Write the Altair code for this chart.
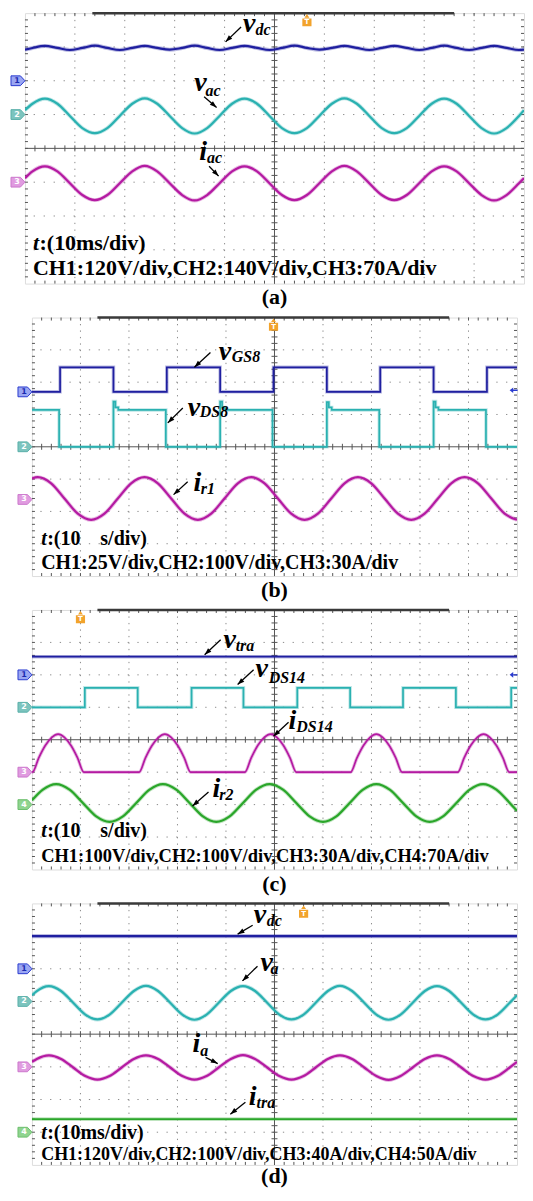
import math
import numpy as np
import pandas as pd
import altair as alt

FONT = "Liberation Serif"
BLUE = "#1f1fa0"
TEAL = "#2ab1b1"
MAG = "#b41aa2"
GREEN = "#2aa62a"
ORANGE = "#f2a32c"
GRID = "#8c8c8c"
AXC = "#555555"

# ---------------- panel (a) ----------------
a_t = [0, 0.15, 0.4, 0.65, 0.9, 1.15, 1.4, 1.65, 1.9, 2.15, 2.4, 2.65, 2.9, 3.15, 3.4, 3.65,
       3.9, 4.15, 4.4, 4.65, 4.9, 5.15, 5.4, 5.65, 5.9, 6.15, 6.4, 6.65, 6.9, 7.15, 7.4, 7.65,
       7.9, 8.15, 8.4, 8.65, 8.9, 9.15, 9.4, 9.65, 9.9, 10]
a_vdc = [2.92,
         2.97, 3.03, 2.97, 2.91, 2.97, 3.04, 2.97, 2.91, 2.97, 3.03, 2.97, 2.92,
         2.97, 3.04, 2.97, 2.91, 2.97, 3.03, 2.97, 2.91, 2.97, 3.04, 2.97, 2.92,
         2.97, 3.03, 2.97, 2.91, 2.97, 3.03, 2.97, 2.91, 2.97, 3.04, 2.97, 2.91,
         2.97, 3.03, 2.97, 2.91,
         2.92]
a_vac = [1.13,
         1.32, 1.47, 1.32, 0.96, 0.60, 0.45, 0.60, 0.96,
         1.32, 1.48, 1.32, 0.96, 0.60, 0.44, 0.60, 0.96,
         1.32, 1.47, 1.32, 0.96, 0.60, 0.45, 0.60, 0.96,
         1.32, 1.48, 1.32, 0.96, 0.60, 0.45, 0.60, 0.96,
         1.32, 1.47, 1.32, 0.96, 0.60, 0.44, 0.60, 0.96,
         1.13]
a_iac = [-0.88,
         -0.68, -0.53, -0.68, -1.03, -1.38, -1.53, -1.38, -1.03,
         -0.68, -0.52, -0.68, -1.03, -1.38, -1.54, -1.38, -1.03,
         -0.68, -0.53, -0.68, -1.03, -1.38, -1.53, -1.38, -1.03,
         -0.68, -0.52, -0.68, -1.03, -1.38, -1.53, -1.38, -1.03,
         -0.68, -0.53, -0.68, -1.03, -1.38, -1.54, -1.38, -1.03,
         -0.88]

# ---------------- panel (b) ----------------
b_gs_t = [0, 0.58, 1.68, 2.78, 3.88, 4.98, 6.08, 7.18, 8.28, 9.38, 10]
b_gs_v = [1.70, 2.46, 1.70, 2.46, 1.70, 2.46, 1.70, 2.46, 1.70, 2.46, 2.46]
b_ds_t = [0, 0.56, 1.68, 1.72, 1.78, 2.76, 3.88, 3.92, 3.98, 4.96, 6.08, 6.12, 6.18, 7.16,
          8.28, 8.32, 8.38, 9.36, 10]
b_ds_v = [1.14, 0.0, 1.40, 1.22, 1.14, 0.0, 1.40, 1.22, 1.14, 0.0, 1.38, 1.22, 1.14, 0.0,
          1.40, 1.22, 1.14, 0.0, 0.0]
b_ir_t = [0, 0.12, 0.395, 0.67, 0.945, 1.22, 1.495, 1.77, 2.045, 2.32, 2.595, 2.87, 3.145,
          3.42, 3.695, 3.97, 4.245, 4.52, 4.795, 5.07, 5.345, 5.62, 5.895, 6.17, 6.445, 6.72,
          6.995, 7.27, 7.545, 7.82, 8.095, 8.37, 8.645, 8.92, 9.195, 9.47, 9.745, 10]
b_ir_v = [-0.98,
          -0.94, -1.13, -1.60, -2.07, -2.26, -2.07, -1.60, -1.13,
          -0.94, -1.13, -1.60, -2.07, -2.26, -2.07, -1.60, -1.13,
          -0.94, -1.13, -1.60, -2.07, -2.26, -2.07, -1.60, -1.13,
          -0.94, -1.13, -1.60, -2.07, -2.26, -2.07, -1.60, -1.13,
          -0.94, -1.13, -1.60, -2.07,
          -2.26]

# ---------------- panel (c) ----------------
c_tra_t = [0, 10]
c_tra_v = [2.56, 2.56]
c_ds_t = [0, 1.09, 2.18, 3.29, 4.36, 5.47, 6.56, 7.65, 8.74, 9.88, 10]
c_ds_v = [1.0, 1.6, 1.0, 1.6, 1.0, 1.6, 1.0, 1.6, 1.0, 1.6, 1.6]
c_id_t = [0,
          0.01, 0.14, 0.275, 0.41, 0.54, 0.67, 0.805, 0.94, 1.07,
          2.21, 2.34, 2.475, 2.61, 2.74, 2.87, 3.005, 3.14, 3.27,
          4.39, 4.52, 4.655, 4.79, 4.92, 5.05, 5.185, 5.32, 5.45,
          6.57, 6.70, 6.835, 6.97, 7.10, 7.23, 7.365, 7.50, 7.63,
          8.78, 8.91, 9.045, 9.18, 9.31, 9.44, 9.575, 9.71, 9.84,
          10]
c_id_v = [-1.0,
          -1.0, -0.56, -0.18, 0.07, 0.17, 0.07, -0.18, -0.56, -1.0,
          -1.0, -0.56, -0.18, 0.07, 0.17, 0.07, -0.18, -0.56, -1.0,
          -1.0, -0.56, -0.18, 0.07, 0.17, 0.07, -0.18, -0.56, -1.0,
          -1.0, -0.56, -0.18, 0.07, 0.17, 0.07, -0.18, -0.56, -1.0,
          -1.0, -0.56, -0.18, 0.07, 0.17, 0.07, -0.18, -0.56, -1.0,
          -1.0]
c_ir_t = [0, 0.225, 0.5, 0.775, 1.05, 1.325, 1.6, 1.875, 2.15, 2.425, 2.7, 2.975, 3.25,
          3.525, 3.8, 4.075, 4.35, 4.625, 4.9, 5.175, 5.45, 5.725, 6.0, 6.275, 6.55, 6.825,
          7.1, 7.375, 7.65, 7.925, 8.2, 8.475, 8.75, 9.025, 9.3, 9.575, 9.85, 10]
c_ir_v = [-1.87,
          -1.54, -1.37, -1.54, -1.95, -2.36, -2.53, -2.36, -1.95,
          -1.54, -1.37, -1.54, -1.95, -2.36, -2.53, -2.36, -1.95,
          -1.54, -1.37, -1.54, -1.95, -2.36, -2.53, -2.36, -1.95,
          -1.54, -1.37, -1.54, -1.95, -2.36, -2.53, -2.36, -1.95,
          -1.54, -1.37, -1.54, -1.95,
          -2.19]

# ---------------- panel (d) ----------------
d_t = [0, 0.1, 0.35, 0.6, 0.85, 1.1, 1.35, 1.6, 1.85, 2.1, 2.35, 2.6, 2.85, 3.1, 3.35, 3.6,
       3.85, 4.1, 4.35, 4.6, 4.85, 5.1, 5.35, 5.6, 5.85, 6.1, 6.35, 6.6, 6.85, 7.1, 7.35, 7.6,
       7.85, 8.1, 8.35, 8.6, 8.85, 9.1, 9.35, 9.6, 9.85, 10]
d_va = [1.19,
        1.32, 1.47, 1.32, 0.96, 0.60, 0.45, 0.60, 0.96,
        1.32, 1.48, 1.32, 0.96, 0.60, 0.44, 0.60, 0.96,
        1.32, 1.47, 1.32, 0.96, 0.60, 0.45, 0.60, 0.96,
        1.32, 1.48, 1.32, 0.96, 0.60, 0.44, 0.60, 0.96,
        1.32, 1.47, 1.32, 0.96, 0.60, 0.45, 0.60, 0.96,
        1.19]
d_ia = [-0.85,
        -0.76, -0.65, -0.76, -1.02, -1.28, -1.39, -1.28, -1.02,
        -0.76, -0.65, -0.76, -1.02, -1.28, -1.39, -1.28, -1.02,
        -0.76, -0.64, -0.76, -1.02, -1.28, -1.39, -1.28, -1.02,
        -0.76, -0.65, -0.76, -1.02, -1.28, -1.40, -1.28, -1.02,
        -0.76, -0.65, -0.76, -1.02, -1.28, -1.39, -1.28, -1.02,
        -0.85]
d_flat_t = [0, 10]
d_vdc = [3.0, 3.0]
d_itra = [-2.6, -2.6]

# ---------------- texts ----------------
a_info = ":(10ms/div)"
b_info = ":(10\u00a0\u00a0\u00a0\u00a0s/div)"
c_info = ":(10\u00a0\u00a0\u00a0\u00a0s/div)"
d_info = ":(10ms/div)"
a_ch = "CH1:120V/div,CH2:140V/div,CH3:70A/div"
b_ch = "CH1:25V/div,CH2:100V/div,CH3:30A/div"
c_ch = "CH1:100V/div,CH2:100V/div,CH3:30A/div,CH4:70A/div"
d_ch = "CH1:120V/div,CH2:100V/div,CH3:40A/div,CH4:50A/div"

XS = alt.Scale(domain=[0, 10], nice=False, zero=False)
YS = alt.Scale(domain=[-4, 4], nice=False, zero=False)


def X(f):
    return alt.X(f, type="quantitative", scale=XS, axis=None)


def Y(f):
    return alt.Y(f, type="quantitative", scale=YS, axis=None)


HEAD = "M0,0L-0.8,2.3L0.8,2.3Z"
TAG = "M-1,-0.7L0.35,-0.7L1,0L0.35,0.7L-1,0.7Z"
TRIG = "M-0.75,-0.3L0.75,-0.3L0.75,1L-0.75,1Z M-0.4,-0.42L0,-1L0.4,-0.42Z"
LARROW = "M-1,0L-0.1,-0.7L-0.1,0.7Z M-0.1,-0.18L1,-0.18L1,0.18L-0.1,0.18Z"

CH_STYLE = {
    1: ("#9aa6f2", "#2a3bd0", "#1a2ab0"),
    2: ("#7cc4be", "#5ab0aa", "white"),
    3: ("#e09be0", "#cc77cc", "white"),
    4: ("#8fd48f", "#6cbf6c", "white"),
}


def frame_layers(ppx, ppy):
    L = []
    vdf = pd.DataFrame({"x": [1, 2, 3, 4, 6, 7, 8, 9]})
    hdf = pd.DataFrame({"y": [-3, -2, -1, 1, 2, 3]})
    L.append(alt.Chart(vdf).mark_rule(color=GRID, strokeWidth=1,
                                      strokeDash=[1.3, ppy * 0.2 - 1.3]).encode(x=X("x")))
    L.append(alt.Chart(hdf).mark_rule(color=GRID, strokeWidth=1,
                                      strokeDash=[1.3, ppx * 0.2 - 1.3]).encode(y=Y("y")))
    L.append(alt.Chart(pd.DataFrame({"x": [5]})).mark_rule(color=AXC, strokeWidth=1).encode(x=X("x")))
    L.append(alt.Chart(pd.DataFrame({"y": [0]})).mark_rule(color=AXC, strokeWidth=1).encode(y=Y("y")))
    xt = np.round(np.arange(0.2, 9.99, 0.2), 3)
    yt = np.round(np.arange(-3.8, 3.99, 0.2), 3)
    hx = 3.0 / ppx
    hy = 3.0 / ppy
    rows = []
    for v in xt:
        rows.append((v, -hy, v, hy))
        rows.append((v, 4, v, 4 - hy))
        rows.append((v, -4, v, -4 + hy))
    for v in yt:
        rows.append((5 - hx, v, 5 + hx, v))
        rows.append((0, v, hx, v))
        rows.append((10, v, 10 - hx, v))
    tdf = pd.DataFrame(rows, columns=["x", "y", "x2", "y2"])
    L.append(alt.Chart(tdf).mark_rule(color=AXC, strokeWidth=1).encode(
        x=X("x"), y=Y("y"), x2=alt.X2("x2"), y2=alt.Y2("y2")))
    bar = pd.DataFrame({"x": [1.35], "x2": [8.6], "y": [4]})
    L.append(alt.Chart(bar).mark_rule(color="#3a3a3a", strokeWidth=2.5).encode(
        x=X("x"), x2=alt.X2("x2"), y=Y("y")))
    return L


def trace(xv, yv, color, interp, sw=2.2):
    df = pd.DataFrame({"x": xv, "y": yv, "i": list(range(len(xv)))})
    base = alt.Chart(df).encode(x=X("x"), y=Y("y"), order="i:Q")
    halo = base.mark_line(color=color, strokeWidth=sw + 1.8, opacity=0.3,
                          interpolate=interp, clip=True)
    core = base.mark_line(color=color, strokeWidth=sw, interpolate=interp, clip=True)
    return alt.layer(halo, core)


def label_layers(mains, subs, msize=28, ssize=16):
    mdf = pd.DataFrame(mains, columns=["t", "x", "y"])
    sdf = pd.DataFrame(subs, columns=["t", "x", "y"])
    common = dict(font=FONT, fontWeight="bold", fontStyle="italic", align="left",
                  baseline="alphabetic", color="black")
    l1 = alt.Chart(mdf).mark_text(fontSize=msize, **common).encode(x=X("x"), y=Y("y"), text="t:N")
    l2 = alt.Chart(sdf).mark_text(fontSize=ssize, **common).encode(x=X("x"), y=Y("y"), text="t:N")
    return [l1, l2]


def arrow_layers(arrows, ppx, ppy):
    rows = []
    for tx, ty, hx_, hy_ in arrows:
        dx = (hx_ - tx) * ppx
        dy = -(hy_ - ty) * ppy
        ang = math.degrees(math.atan2(dx, -dy)) % 360
        rows.append(dict(tx=tx, ty=ty, hx=hx_, hy=hy_, ang=ang))
    df = pd.DataFrame(rows)
    shaft = alt.Chart(df).mark_rule(color="black", strokeWidth=1.3).encode(
        x=X("tx"), y=Y("ty"), x2=alt.X2("hx"), y2=alt.Y2("hy"))
    head = alt.Chart(df).mark_point(shape=HEAD, size=36, filled=True, color="black",
                                    opacity=1).encode(
        x=X("hx"), y=Y("hy"), angle=alt.Angle("ang:Q", scale=None))
    return [shaft, head]


def ch_layers(chs, xoff):
    rows = []
    for n, y in chs:
        f, s, t = CH_STYLE[n]
        rows.append(dict(n=str(n), y=y, fill=f, stroke=s, tc=t, x=xoff))
    df = pd.DataFrame(rows)
    shp = alt.Chart(df).mark_point(shape=TAG, size=196, filled=True, opacity=1,
                                   strokeWidth=1).encode(
        x=X("x"), y=Y("y"), fill=alt.Fill("fill:N", scale=None),
        stroke=alt.Stroke("stroke:N", scale=None))
    txt = alt.Chart(df).mark_text(font="DejaVu Sans", fontSize=8, fontWeight="bold",
                                  dx=-1).encode(
        x=X("x"), y=Y("y"), text="n:N", color=alt.Color("tc:N", scale=None))
    return [shp, txt]


def trig_layers(x, y):
    df = pd.DataFrame({"x": [x], "y": [y]})
    s = alt.Chart(df).mark_point(shape=TRIG, size=150, filled=True, color=ORANGE,
                                 opacity=1).encode(x=X("x"), y=Y("y"))
    t = alt.Chart(df).mark_text(text="T", fontSize=7, fontWeight="bold", color="white",
                                font="DejaVu Sans", dy=2).encode(x=X("x"), y=Y("y"))
    return [s, t]


def rarrow_layers(x, y):
    df = pd.DataFrame({"x": [x], "y": [y]})
    return [alt.Chart(df).mark_point(shape=LARROW, size=64, filled=True, color="#2a3bd0",
                                     opacity=1).encode(x=X("x"), y=Y("y"))]


def info_layers(x, ty, tsize, rest, chtext, chy, chsize, capx, capy, cap):
    common = dict(font=FONT, fontWeight="bold", align="left", baseline="alphabetic",
                  color="black")
    df = pd.DataFrame({"x": [x], "y": [ty]})
    t1 = alt.Chart(df).mark_text(text="t", fontSize=tsize, fontStyle="italic",
                                 **common).encode(x=X("x"), y=Y("y"))
    t2 = alt.Chart(df).mark_text(text=rest, fontSize=tsize, dx=tsize * 0.3,
                                 **common).encode(x=X("x"), y=Y("y"))
    cdf = pd.DataFrame({"x": [x], "y": [chy]})
    t3 = alt.Chart(cdf).mark_text(text=chtext, fontSize=chsize, **common).encode(
        x=X("x"), y=Y("y"))
    kdf = pd.DataFrame({"x": [capx], "y": [capy]})
    t4 = alt.Chart(kdf).mark_text(text=cap, fontSize=22, font=FONT, fontWeight="bold",
                                  align="center", baseline="alphabetic",
                                  color="black").encode(x=X("x"), y=Y("y"))
    return [t1, t2, t3, t4]


def panel(w, h, traces, mains, subs, arrows, info, trig, chs, rarrow=None):
    ppx = w / 10.0
    ppy = h / 8.0
    L = frame_layers(ppx, ppy)
    L += traces
    L += trig_layers(*trig)
    L += ch_layers(chs, -7.0 / ppx)
    if rarrow is not None:
        L += rarrow_layers(*rarrow)
    L += label_layers(mains, subs)
    L += arrow_layers(arrows, ppx, ppy)
    L += info_layers(*info)
    return alt.layer(*L).properties(width=w, height=h)


pa = panel(
    500, 271,
    [trace(a_t, a_vdc, BLUE, "monotone"),
     trace(a_t, a_vac, TEAL, "monotone"),
     trace(a_t, a_iac, MAG, "monotone")],
    [("v", 4.37, 3.44), ("v", 3.39, 1.71), ("i", 3.49, -0.35)],
    [("dc", 4.62, 3.35), ("ac", 3.62, 1.56), ("ac", 3.65, -0.44)],
    [(4.33, 3.59, 4.02, 3.15), (3.59, 1.53, 3.84, 1.21), (3.69, -0.53, 3.88, -0.82)],
    (0.16, -3.02, 22, a_info, a_ch, -3.76, 22, 5.0, -4.6, "(a)"),
    (5.65, 3.79),
    [(1, 2.0), (2, 1.0), (3, -1.0)],
)

pb = panel(
    486, 259,
    [trace(b_gs_t, b_gs_v, BLUE, "step-after", 1.7),
     trace(b_ds_t, b_ds_v, TEAL, "step-after", 1.7),
     trace(b_ir_t, b_ir_v, MAG, "monotone")],
    [("v", 3.85, 2.68), ("v", 3.21, 0.95), ("i", 3.33, -1.38)],
    [("GS8", 4.12, 2.62), ("DS8", 3.46, 0.92), ("r1", 3.48, -1.45)],
    [(3.68, 2.92, 3.35, 2.46), (3.11, 1.2, 2.8, 0.74), (3.21, -1.08, 2.92, -1.48)],
    (0.19, -3.05, 20, b_info, b_ch, -3.78, 20, 5.0, -4.66, "(b)"),
    (4.98, 3.78),
    [(1, 1.7), (2, 0.0), (3, -1.63)],
    rarrow=(9.93, 1.75),
)

pc = panel(
    486, 260,
    [trace(c_tra_t, c_tra_v, BLUE, "linear", 1.7),
     trace(c_ds_t, c_ds_v, TEAL, "step-after", 1.7),
     trace(c_id_t, c_id_v, MAG, "monotone", 1.7),
     trace(c_ir_t, c_ir_v, GREEN, "monotone")],
    [("v", 3.95, 2.84), ("v", 4.61, 1.92), ("i", 5.29, 0.32), ("i", 3.72, -1.76)],
    [("tra", 4.2, 2.75), ("DS14", 4.88, 1.76), ("DS14", 5.45, 0.23), ("r2", 3.86, -1.86)],
    [(3.89, 3.08, 3.56, 2.62), (4.57, 2.16, 4.24, 1.7), (5.29, 0.54, 4.98, 0.11),
     (3.64, -1.61, 3.31, -2.04)],
    (0.19, -3.0, 20, c_info, c_ch, -3.76, 18.5, 5.0, -4.66, "(c)"),
    (1.0, 3.78),
    [(1, 2.0), (2, 1.0), (3, -1.0), (4, -2.0)],
    rarrow=(9.93, 2.0),
)

pd_ = panel(
    486, 262,
    [trace(d_flat_t, d_vdc, BLUE, "linear", 2.4),
     trace(d_t, d_va, TEAL, "monotone"),
     trace(d_t, d_ia, MAG, "monotone"),
     trace(d_flat_t, d_itra, GREEN, "linear", 1.9)],
    [("v", 4.57, 3.39), ("v", 4.71, 1.93), ("i", 3.31, -0.56), ("i", 4.47, -2.18)],
    [("dc", 4.84, 3.3), ("a", 4.92, 1.84), ("a", 3.47, -0.68), ("tra", 4.63, -2.27)],
    [(4.55, 3.33, 4.24, 3.06), (4.65, 2.08, 4.34, 1.63), (3.58, -0.71, 3.83, -0.9),
     (4.4, -2.08, 4.09, -2.45)],
    (0.19, -3.2, 20, d_info, d_ch, -3.86, 18, 5.0, -4.55, "(d)"),
    (5.6, 3.75),
    [(1, 2.0), (2, 1.0), (3, -1.0), (4, -3.0)],
)

chart = alt.vconcat(pa, pb, pc, pd_, spacing=34, bounds="flush", center=True).properties(
    padding={"left": 0, "top": 0, "right": 0, "bottom": 0}
).configure_view(stroke="#4a4a4a", strokeWidth=1.2).configure(background="white")

chart.save("out.html", embed_options={"renderer": "svg", "actions": False})
